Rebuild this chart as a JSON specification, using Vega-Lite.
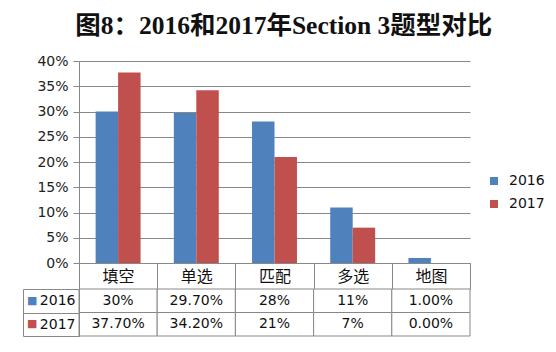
{
  "$schema": "https://vega.github.io/schema/vega-lite/v6.json",
  "background": "white",
  "padding": {"left": 22, "top": 13, "right": 5, "bottom": 15},
  "title": {"text": "图8：2016和2017年Section 3题型对比", "font": "Liberation Serif, Noto Sans CJK SC", "fontSize": 25.5, "fontWeight": "bold", "anchor": "middle", "offset": 15, "color": "#111"},
  "data": {"values": [
    {"cat": "填空", "year": "2016", "value": 0.30, "label": "30%"},
    {"cat": "填空", "year": "2017", "value": 0.377, "label": "37.70%"},
    {"cat": "单选", "year": "2016", "value": 0.297, "label": "29.70%"},
    {"cat": "单选", "year": "2017", "value": 0.342, "label": "34.20%"},
    {"cat": "匹配", "year": "2016", "value": 0.28, "label": "28%"},
    {"cat": "匹配", "year": "2017", "value": 0.21, "label": "21%"},
    {"cat": "多选", "year": "2016", "value": 0.11, "label": "11%"},
    {"cat": "多选", "year": "2017", "value": 0.07, "label": "7%"},
    {"cat": "地图", "year": "2016", "value": 0.01, "label": "1.00%"},
    {"cat": "地图", "year": "2017", "value": 0.0, "label": "0.00%"}
  ]},
  "bounds": "flush",
  "spacing": 26,
  "vconcat": [
    {
      "width": 391,
      "height": 202,
      "mark": {"type": "bar"},
      "encoding": {
        "x": {"field": "cat", "type": "nominal", "sort": ["填空", "单选", "匹配", "多选", "地图"],
          "scale": {"paddingInner": 0, "paddingOuter": 0},
          "axis": {"title": null, "labelAngle": 0, "labelFont": "Noto Sans CJK SC", "labelFontSize": 16, "labelColor": "#111", "labelBaseline": "middle", "labelPadding": -13, "tickBand": "extent", "tickSize": 26, "tickColor": "#888", "domainColor": "#888"}},
        "xOffset": {"field": "year", "type": "nominal", "scale": {"paddingInner": 0, "paddingOuter": 0.74}},
        "y": {"field": "value", "type": "quantitative", "scale": {"domain": [0, 0.4]},
          "axis": {"title": null, "values": [0, 0.05, 0.1, 0.15, 0.2, 0.25, 0.3, 0.35, 0.4], "format": ".0%", "labelFontSize": 14, "labelColor": "#222", "tickSize": 6, "tickColor": "#888", "domainColor": "#888", "gridColor": "#888", "labelPadding": 5}},
        "color": {"field": "year", "type": "nominal", "scale": {"range": ["#4F81BD", "#C0504D"]},
          "legend": {"title": null, "orient": "none", "legendX": 408, "legendY": 113, "symbolType": "square", "symbolSize": 64, "labelFontSize": 14, "labelColor": "#111", "labelOffset": 8, "rowPadding": 9, "padding": 0, "symbolStrokeWidth": 0}}
      }
    },
    {
      "width": 391,
      "height": 47,
      "layer": [
        {
          "mark": {"type": "rect", "fill": "white", "stroke": "#888", "strokeWidth": 1},
          "encoding": {
            "x": {"field": "cat", "type": "nominal", "sort": ["填空", "单选", "匹配", "多选", "地图"], "scale": {"paddingInner": 0, "paddingOuter": 0}, "axis": null},
            "y": {"field": "year", "type": "nominal", "scale": {"paddingInner": 0, "paddingOuter": 0},
              "axis": {"orient": "left", "title": null, "tickBand": "extent", "tickSize": 56, "tickColor": "#888", "domainColor": "#888", "labelPadding": -52, "labelFontSize": 14, "labelColor": "#111"}}
          }
        },
        {
          "mark": {"type": "text", "fontSize": 14, "color": "#111"},
          "encoding": {
            "x": {"field": "cat", "type": "nominal", "sort": ["填空", "单选", "匹配", "多选", "地图"], "axis": null},
            "y": {"field": "year", "type": "nominal",
              "axis": {"orient": "left", "offset": 56, "title": null, "ticks": false, "domainColor": "#888", "labelExpr": "'■'", "labelColor": {"condition": {"test": "datum.value == '2016'", "value": "#4F81BD"}, "value": "#C0504D"}, "labelFontSize": 11, "labelPadding": -14}},
            "text": {"field": "label"}
          }
        }
      ],
      "resolve": {"axis": {"y": "independent"}}
    }
  ],
  "config": {"view": {"stroke": null}, "font": "DejaVu Sans"}
}
